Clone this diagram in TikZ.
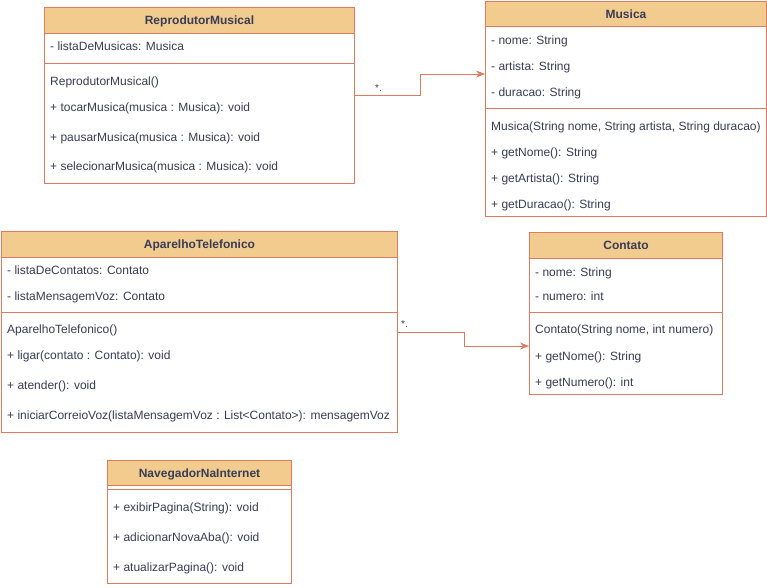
\documentclass[tikz,border=0pt]{standalone}
\usepackage{fontspec}
\setmainfont{Liberation Sans}
\usetikzlibrary{arrows.meta}
\definecolor{hdr}{RGB}{242,204,143}
\definecolor{edgec}{RGB}{224,122,95}
\definecolor{txt}{RGB}{57,60,86}
\begin{document}
\begin{tikzpicture}[x=1pt,y=-1pt,
 cls/.style={draw=edgec, line width=1pt, fill=white, inner sep=0, anchor=north west},
 hd/.style={draw=edgec, line width=1pt, fill=hdr, inner sep=0, anchor=north west, font=\bfseries\fontsize{12}{14}\selectfont, text=txt, text height=10pt, text depth=2pt},
 it/.style={anchor=west, inner sep=0, font=\fontsize{12}{14}\selectfont, text=txt, text height=10pt, text depth=2pt},
 sep/.style={draw=edgec, line width=1pt},
 conn/.style={draw=edgec, line width=1pt, -{Stealth[length=9pt,width=7pt]}},
 mult/.style={anchor=south west, inner sep=0, font=\fontsize{10}{12}\selectfont, text=txt}]
\useasboundingbox (0,0) rectangle (767,587);

% ReprodutorMusical
\node[cls, minimum width=310pt, minimum height=176pt] (rm) at (44,7) {};
\node[hd, minimum width=310pt, minimum height=26pt] (rmh) at (44,7) {ReprodutorMusical};
\draw[sep] (44,63) -- (354,63);
\node[it] (rm1) at (50,46) {- listaDeMusicas: Musica};
\node[it] (rm2) at (50,81) {ReprodutorMusical()};
\node[it] (rm3) at (50,107) {+ tocarMusica(musica : Musica): void};
\node[it] (rm4) at (50,137) {+ pausarMusica(musica : Musica): void};
\node[it] (rm5) at (50,166) {+ selecionarMusica(musica : Musica): void};

% Musica
\node[cls, minimum width=281pt, minimum height=215pt] (mu) at (485,1) {};
\node[hd, minimum width=281pt, minimum height=25pt] (muh) at (485,1) {Musica};
\draw[sep] (485,108) -- (766,108);
\node[it] (mu1) at (491,40) {- nome: String};
\node[it] (mu2) at (491,66) {- artista: String};
\node[it] (mu3) at (491,92) {- duracao: String};
\node[it] (mu4) at (491,126) {Musica(String nome, String artista, String duracao)};
\node[it] (mu5) at (491,152) {+ getNome(): String};
\node[it] (mu6) at (491,178) {+ getArtista(): String};
\node[it] (mu7) at (491,204) {+ getDuracao(): String};

% AparelhoTelefonico
\node[cls, minimum width=396pt, minimum height=201pt] (ap) at (1,231) {};
\node[hd, minimum width=396pt, minimum height=26pt] (aph) at (1,231) {AparelhoTelefonico};
\draw[sep] (1,312) -- (397,312);
\node[it] (ap1) at (7,270) {- listaDeContatos: Contato};
\node[it] (ap2) at (7,296) {- listaMensagemVoz: Contato};
\node[it] (ap3) at (7,329) {AparelhoTelefonico()};
\node[it] (ap4) at (7,355) {+ ligar(contato : Contato): void};
\node[it] (ap5) at (7,385) {+ atender(): void};
\node[it] (ap6) at (7,415) {+ iniciarCorreioVoz(listaMensagemVoz : List<Contato>): mensagemVoz};

% Contato
\node[cls, minimum width=193pt, minimum height=162pt] (ct) at (529,232) {};
\node[hd, minimum width=193pt, minimum height=26pt] (cth) at (529,232) {Contato};
\draw[sep] (529,312) -- (722,312);
\node[it] (ct1) at (535,272) {- nome: String};
\node[it] (ct2) at (535,296) {- numero: int};
\node[it] (ct3) at (535,329) {Contato(String nome, int numero)};
\node[it] (ct4) at (535,356) {+ getNome(): String};
\node[it] (ct5) at (535,382) {+ getNumero(): int};

% NavegadorNaInternet
\node[cls, minimum width=184pt, minimum height=123pt] (nv) at (107,460) {};
\node[hd, minimum width=184pt, minimum height=25pt] (nvh) at (107,460) {NavegadorNaInternet};
\draw[sep] (107,489) -- (291,489);
\node[it] (nv1) at (113,507) {+ exibirPagina(String): void};
\node[it] (nv2) at (113,537) {+ adicionarNovaAba(): void};
\node[it] (nv3) at (113,567) {+ atualizarPagina(): void};

% connectors
\draw[conn] (rm.east) -- ++(65,0) |- (mu.west |- 0,74);
\node[mult] (m1) at (375,92) {*.};
\draw[conn] (ap.east) -- ++(66,0) |- (ct.west |- 0,346);
\node[mult] (m2) at (401,328) {*.};
\end{tikzpicture}
\end{document}
